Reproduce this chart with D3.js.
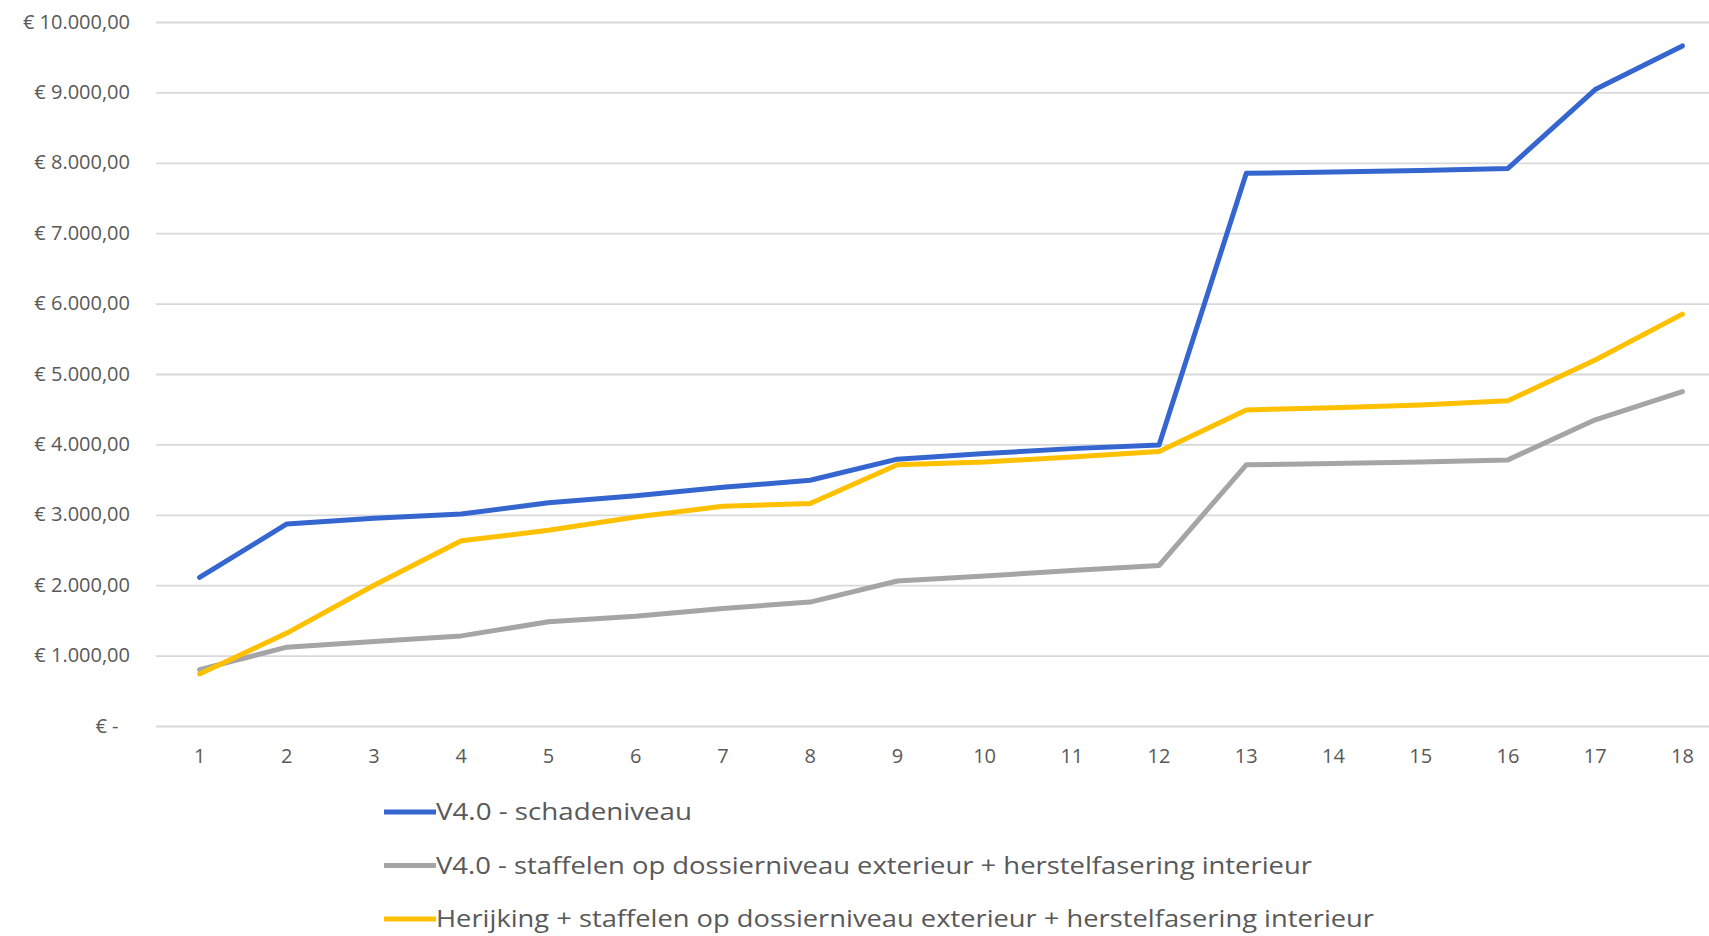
<!DOCTYPE html>
<html>
<head>
<meta charset="utf-8">
<script src="https://cdn.jsdelivr.net/npm/d3@7/dist/d3.min.js"></script>
<style>
  html, body { margin: 0; padding: 0; background: #ffffff; }
  svg { display: block; }
</style>
</head>
<body>
<svg id="chart" width="1709" height="936"></svg>
<script>
const categories = ["1","2","3","4","5","6","7","8","9","10","11","12","13","14","15","16","17","18"];
const blueValues   = [2110, 2870, 2950, 3010, 3170, 3270, 3390, 3490, 3790, 3870, 3940, 3990, 7850, 7870, 7890, 7920, 9040, 9660];
const grayValues   = [800, 1120, 1200, 1280, 1480, 1560, 1670, 1760, 2060, 2130, 2210, 2280, 3710, 3730, 3750, 3780, 4350, 4750];
const yellowValues = [740, 1320, 2000, 2630, 2780, 2970, 3120, 3160, 3710, 3750, 3820, 3900, 4490, 4520, 4560, 4620, 5200, 5850];
const seriesNames = [
  "V4.0 - schadeniveau",
  "V4.0 - staffelen op dossierniveau exterieur + herstelfasering interieur",
  "Herijking + staffelen op dossierniveau exterieur + herstelfasering interieur"
];
const seriesColors = ["#3565cf", "#a5a5a5", "#ffc000"];
const yTickValues = [0, 1000, 2000, 3000, 4000, 5000, 6000, 7000, 8000, 9000, 10000];
const yTickLabels = ["€ -\u2007", "€ 1.000,00", "€ 2.000,00", "€ 3.000,00", "€ 4.000,00", "€ 5.000,00",
                     "€ 6.000,00", "€ 7.000,00", "€ 8.000,00", "€ 9.000,00", "€ 10.000,00"];

const series = [blueValues, grayValues, yellowValues].map((v, i) => ({
  name: seriesNames[i], color: seriesColors[i], values: v
}));

const svg = d3.select("#chart");
const font = "'Open Sans', 'Liberation Sans', Arial, sans-serif";
const textColor = "#595959";

const x = d3.scaleBand().domain(categories).range([156, 1726]).padding(0);
const xp = c => x(c) + x.bandwidth() / 2;
const y = d3.scaleLinear().domain([0, 10000]).range([726, 22]);

// Gridlines + y labels
const yAxis = d3.axisLeft(y)
  .tickValues(yTickValues)
  .tickSize(-(1726 - 156))
  .tickPadding(26)
  .tickFormat((d, i) => yTickLabels[i]);
const gy = svg.append("g").attr("transform", "translate(156,0)").call(yAxis);
gy.select(".domain").remove();
gy.selectAll(".tick line").attr("stroke", "#d9d9d9").attr("stroke-width", 1.8);
gy.selectAll(".tick text")
  .attr("fill", textColor)
  .attr("font-family", font)
  .attr("font-size", "20px")
  .attr("dy", "0.3em");

// X axis labels
const xAxis = d3.axisBottom(x).tickSize(0).tickPadding(0);
const gx = svg.append("g").attr("transform", "translate(0,726)").call(xAxis);
gx.select(".domain").remove();
gx.selectAll(".tick text")
  .attr("fill", textColor)
  .attr("font-family", font)
  .attr("font-size", "20px")
  .attr("y", 30)
  .attr("dy", "0.35em");

// Lines
const line = d3.line().x((d, i) => xp(categories[i])).y(d => y(d));
svg.append("g").selectAll("path")
  .data(series)
  .join("path")
  .attr("d", d => line(d.values))
  .attr("fill", "none")
  .attr("stroke", d => d.color)
  .attr("stroke-width", 5)
  .attr("stroke-linejoin", "round")
  .attr("stroke-linecap", "round");

// Legend
const legendY = [812, 865.5, 919];
const legendWidths = [256, 876, 938];
const lg = svg.append("g").selectAll("g")
  .data(series)
  .join("g")
  .attr("transform", (d, i) => `translate(384,${legendY[i]})`);
lg.append("line")
  .attr("x1", 0).attr("x2", 52)
  .attr("stroke", d => d.color)
  .attr("stroke-width", 5);
lg.append("text")
  .attr("x", 52)
  .attr("dy", "0.36em")
  .attr("fill", textColor)
  .attr("font-family", font)
  .attr("font-size", "23px")
  .attr("textLength", (d, i) => legendWidths[i])
  .attr("lengthAdjust", "spacingAndGlyphs")
  .text(d => d.name);
</script>
</body>
</html>
